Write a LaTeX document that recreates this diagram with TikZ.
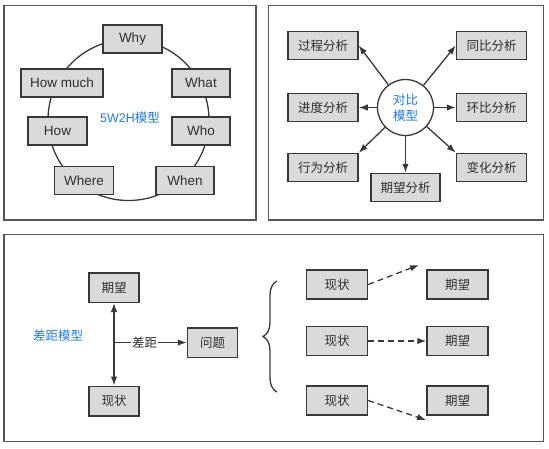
\documentclass[tikz,border=0pt]{standalone}
\usepackage{fontspec}
\setmainfont{Liberation Sans}
\newfontfamily\cjk{Noto Sans CJK SC}
\usepackage{tikz}
\usetikzlibrary{arrows.meta,decorations.pathreplacing}
\definecolor{boxgray}{HTML}{DADADA}
\definecolor{edgegray}{HTML}{383838}
\definecolor{txtgray}{HTML}{2E2E2E}
\definecolor{lblblue}{HTML}{1F7AE8}
\tikzset{
	panel/.style={draw=edgegray!85,line width=1.5pt},
	box/.style={draw=edgegray,fill=boxgray,line width=1.5pt,text=txtgray,minimum height=28pt,inner sep=2pt,font=\fontsize{13.5}{15}\selectfont},
	cbox/.style={box,font=\fontsize{12.5}{15}\selectfont\cjk},
	lbl/.style={text=lblblue,font=\fontsize{12.5}{16}\selectfont\cjk},
	link/.style={draw=edgegray,line width=1.3pt,->},
}

\begin{document}
\begin{tikzpicture}[x=1pt,y=-1pt,>={Latex[length=9pt,width=6.5pt]}]
	\useasboundingbox (0,0) rectangle (549,448);
	% three panels
	\draw[panel] (4,5.5) rectangle (256,220);
	\draw[panel] (268.5,5.5) rectangle (543.5,220);
	\draw[panel] (4,234.5) rectangle (543.5,441.5);
	% 5W2H model
	\coordinate (ring) at (128.5,120);
	\draw[edgegray,line width=1.3pt] (ring) circle[radius=80.5pt];
	\node[box,minimum width=59pt] (why) at (132.5,39) {Why};
	\node[box,minimum width=82pt] (howmuch) at (62,83) {How much};
	\node[box,minimum width=58pt] (what) at (201,83) {What};
	\node[box,minimum width=59pt] (how) at (57.5,131) {How};
	\node[box,minimum width=58pt] (who) at (201,131) {Who};
	\node[box,minimum width=59pt] (where) at (84,180.5) {Where};
	\node[box,minimum width=58pt] (when) at (185,180.5) {When};
	\node[lbl,font=\fontsize{12.5}{16}\selectfont] (m5w2h) at (130,118) {5W2H{\cjk 模型}};
	% contrast model
	\node[lbl,draw=edgegray,line width=1.3pt,fill=white,circle,minimum size=56pt,inner sep=0pt,align=center] (cmp) at (405.5,107.5) {对比\\模型};
	\node[cbox,minimum width=70pt] (gcfx) at (323,45.5) {过程分析};
	\node[cbox,minimum width=70pt] (tbfx) at (491.5,45.5) {同比分析};
	\node[cbox,minimum width=70pt] (jdfx) at (323,107.5) {进度分析};
	\node[cbox,minimum width=70pt] (hbfx) at (491.5,107.5) {环比分析};
	\node[cbox,minimum width=70pt] (xwfx) at (323,167.5) {行为分析};
	\node[cbox,minimum width=70pt] (bhfx) at (491.5,167.5) {变化分析};
	\node[cbox,minimum width=69pt] (qwfx) at (405.5,187.5) {期望分析};
	\draw[link] (cmp) -- (gcfx.east);
	\draw[link] (cmp) -- (tbfx.west);
	\draw[link] (cmp) -- (jdfx.east);
	\draw[link] (cmp) -- (hbfx.west);
	\draw[link] (cmp) -- (xwfx.north east);
	\draw[link] (cmp) -- (bhfx.north west);
	\draw[link] (cmp) -- (qwfx);
	% gap model
	\node[lbl] (cjmx) at (58,336) {差距模型};
	\node[cbox,minimum width=50pt,minimum height=29.5pt] (qw) at (114,287.5) {期望};
	\node[cbox,minimum width=50pt,minimum height=29.5pt] (xz) at (114,401) {现状};
	\node[cbox,minimum width=50pt,minimum height=29.5pt] (wt) at (212.5,342.5) {问题};
	\draw[link,<->] (qw) -- (xz);
	\coordinate (fork) at (qw.south |- wt.west);
	\draw[link] (fork) -- node[pos=0.42,fill=white,inner sep=1pt,text=txtgray,font=\fontsize{12.5}{15}\selectfont\cjk] (cj) {差距} (wt);
	\draw[edgegray,line width=1.3pt,decorate,decoration={brace,amplitude=14pt}] (277,392) -- (277,281);
	\node[cbox,minimum width=61pt,minimum height=29pt] (xz1) at (337,284.5) {现状};
	\node[cbox,minimum width=61pt,minimum height=29pt] (xz2) at (337,341) {现状};
	\node[cbox,minimum width=61pt,minimum height=29pt] (xz3) at (337,400.5) {现状};
	\node[cbox,minimum width=61pt,minimum height=29pt] (qw1) at (457.5,284.5) {期望};
	\node[cbox,minimum width=61pt,minimum height=29pt] (qw2) at (457.5,341) {期望};
	\node[cbox,minimum width=61pt,minimum height=29pt] (qw3) at (457.5,400.5) {期望};
	\coordinate (up) at (419,265);
	\coordinate (down) at (426,420);
	\draw[link,dash pattern=on 6pt off 4pt] (xz1.east) -- (up);
	\draw[link,dash pattern=on 6pt off 4pt] (xz2) -- (qw2);
	\draw[link,dash pattern=on 6pt off 4pt] (xz3.east) -- (down);
\end{tikzpicture}
\end{document}
